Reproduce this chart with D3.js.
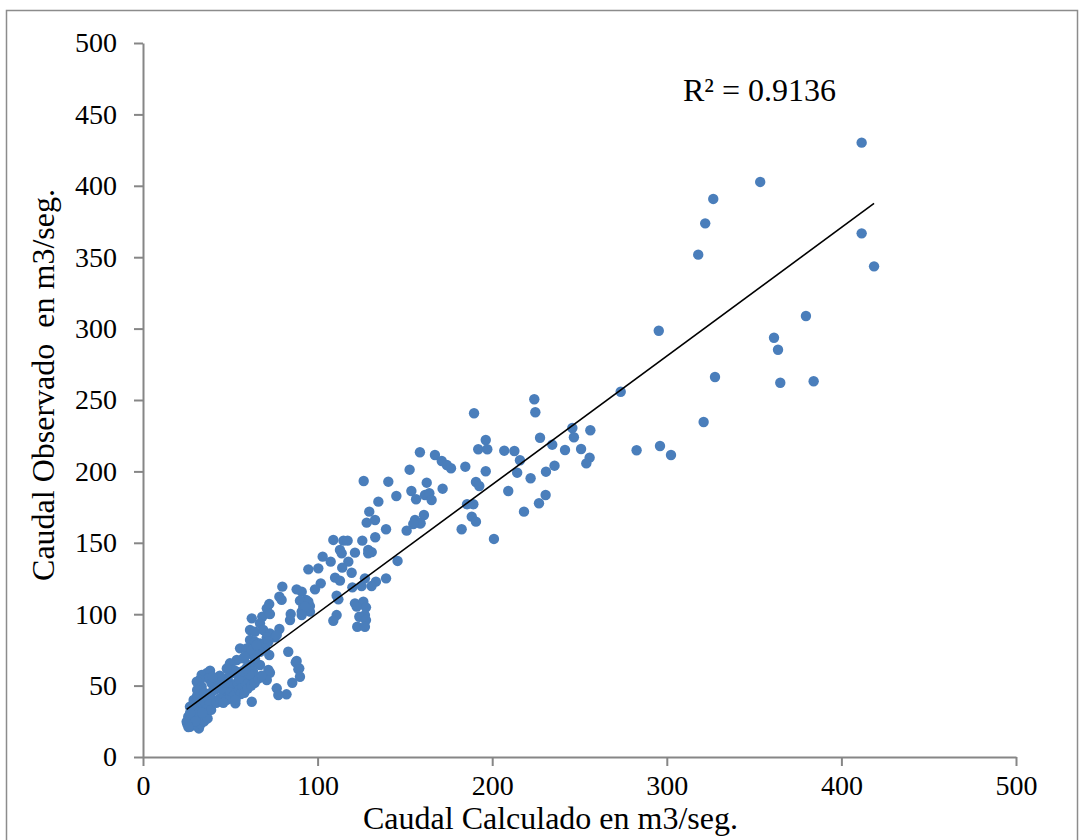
<!DOCTYPE html>
<html>
<head>
  <title>Caudal Observado vs Calculado</title>
  <meta http-equiv="Content-Type" content="text/html; charset=UTF-8">
  <script src="https://d3js.org/d3.v7.min.js"></script>
  <style>
    body { margin: 0; background: #fff; }
    text { font-family: "Liberation Serif", "Times New Roman", serif; fill: #000; }
    .axis path, .axis line { stroke: #868686; stroke-width: 2px; }
    .axis text { font-size: 28px; }
    .dot { fill: #4a7ebb; }
    .trend { stroke: #000; stroke-width: 1.6px; fill: none; }
    .title { font-size: 32px; white-space: pre; }
  </style>
</head>
<body>
  <div id="chart"></div>
  <script>
    // Caudal calculado (m3/seg) - x values
    var calculado = [
      353.5, 326.6, 322.0, 318.0, 411.6, 411.6, 418.7, 295.4, 379.7, 361.4, 363.7, 327.6, 365.0, 384.1, 273.6, 321.1,
      296.1, 302.4, 282.7,
      224.1, 224.7, 189.6, 245.9, 256.2, 227.4, 246.8, 196.3, 234.4, 192.0, 197.2, 206.9, 212.7, 241.7, 250.9, 215.9,
      255.8, 253.9, 158.6, 167.2, 171.1, 174.0, 176.4, 184.6, 196.3, 214.3, 235.7, 230.8, 222.0, 162.5, 171.6, 190.7,
      192.6, 209.2, 230.6, 161.5, 164.0, 165.3, 185.6, 189.2, 226.8, 160.9, 188.3, 190.7, 218.2, 182.5, 158.6, 201.0,
      152.7, 126.4, 140.5, 153.7, 145.1, 134.8, 156.4, 129.6, 132.9, 128.1, 139.2, 155.8, 159.0, 154.8, 151.0, 109.0,
      114.8, 117.2, 125.6, 133.0, 112.8, 113.8, 121.4, 129.0, 131.0, 129.0, 102.9, 107.5, 117.6, 114.1, 119.5, 145.8,
      94.7, 100.4, 110.0, 112.8, 101.8, 98.5, 127.1, 133.4, 130.9, 139.2, 119.9, 125.2, 90.9, 110.9, 111.9, 93.4,
      95.6, 91.8, 95.6, 90.9, 121.4, 126.2, 127.7, 122.4, 127.1, 123.9, 127.7, 122.7, 127.1, 110.9, 109.0,
      79.8, 88.0, 78.1, 79.4, 72.3, 70.9, 71.8, 89.9, 94.7, 92.8, 84.6, 84.2, 90.9, 68.3, 62.3, 72.7, 67.0, 61.3,
      64.1, 68.9, 72.7, 78.1, 70.9, 75.6, 61.3, 64.1, 67.0, 69.9, 68.0, 71.8, 76.6, 55.6, 59.4, 65.1, 69.9, 63.1,
      57.4, 53.7, 49.8, 83.2, 72.3, 88.0, 89.5, 71.8, 64.1, 67.0, 61.3, 58.4, 62.3, 64.1, 67.0, 65.1, 53.7, 60.3,
      57.4, 64.1, 61.3, 47.9, 45.9, 49.8, 52.9, 62.3, 72.7, 70.9, 76.6, 82.2, 77.5, 85.5, 87.5, 89.0, 89.9,
      36.4, 33.6, 38.4, 37.4, 32.6, 30.8, 33.6, 39.3, 26.9, 30.8, 34.5, 25.0, 26.9, 30.8, 31.7, 25.9, 34.5, 36.4,
      28, 29, 27, 28, 32, 33, 35, 37, 29, 31, 33, 35, 37, 39, 41, 40, 38, 36, 39, 42, 44, 46, 48, 50, 52, 54,
      43, 45, 47, 42, 44, 40, 50, 52, 55, 57, 59, 56, 48, 46, 53, 58, 60, 62, 64, 66, 68, 63, 61, 55, 57, 59,
      50, 52, 48, 30, 32, 34, 28, 31, 35, 27, 30, 25.4, 26
    ];

    // Caudal observado (m3/seg) - y values, same order
    var observado = [
      402.7, 390.8, 373.7, 351.8, 430.2, 366.7, 343.6, 298.5, 308.8, 293.6, 285.2, 266.1, 262.1, 263.1, 255.8, 234.6,
      217.8, 211.5, 214.8,
      250.5, 241.4, 240.7, 230.4, 228.8, 223.6, 223.9, 222.0, 218.7, 215.5, 215.5, 214.5, 214.3, 215.0, 215.7, 207.8,
      209.6, 205.6, 213.4, 211.5, 207.3, 204.5, 202.2, 203.3, 200.1, 199.1, 204.0, 199.8, 195.2, 192.1, 187.9, 192.6,
      189.8, 186.3, 183.5, 183.5, 184.7, 180.0, 177.0, 177.0, 177.7, 169.5, 168.3, 164.8, 171.8, 159.5, 163.7, 152.7,
      201.2, 193.3, 192.8, 186.3, 182.8, 178.8, 180.5, 171.8, 166.0, 164.1, 159.5, 166.0, 163.7, 163.2, 158.5, 152.0,
      151.5, 151.5, 151.5, 153.9, 145.0, 142.6, 143.1, 145.0, 143.5, 142.6, 140.3, 136.8, 136.8, 132.6, 129.0, 137.3,
      131.4, 132.1, 125.6, 123.5, 121.6, 117.4, 125.1, 122.8, 119.7, 125.1, 118.8, 119.7, 115.8, 113.0, 110.4, 110.0,
      105.7, 105.3, 101.8, 101.8, 107.6, 108.8, 104.8, 105.3, 99.4, 98.2, 95.9, 91.2, 91.2, 99.4, 95.4,
      119.3, 117.4, 112.3, 110.0, 107.1, 104.1, 100.6, 109.5, 108.8, 105.3, 100.1, 95.9, 99.4, 98.2, 97.1, 100.1, 93.6, 88.9,
      87.7, 88.9, 86.6, 89.6, 83.8, 83.8, 81.9, 80.7, 79.6, 80.0, 76.8, 80.7, 85.4, 76.1, 76.1, 74.9, 76.1, 71.4,
      69.1, 67.9, 65.6, 73.7, 71.4, 67.2, 62.1, 60.9, 66.7, 64.4, 63.2, 70.2, 74.9, 69.1, 73.7, 78.4, 59.7, 64.4,
      56.2, 56.2, 52.7, 55.1, 53.9, 51.6, 37.6, 38.7, 59.0, 53.9, 48.1, 43.9, 43.4, 52.0, 66.3, 61.4, 56.2,
      58.6, 57.4, 60.4, 55.1, 53.9, 52.7, 49.2, 51.6, 35.2, 37.6, 35.2, 24.7, 21.2, 22.4, 25.9, 28.2, 28.2, 30.6,
      30, 33, 26, 23, 20, 23, 25, 27, 40, 43, 41, 39, 42, 45, 47, 40, 37, 33, 33, 38, 41, 44, 46, 48, 50, 52,
      50, 48, 52, 55, 57, 56, 45, 43, 47, 49, 51, 44, 40, 38, 40, 45, 48, 50, 52, 55, 57, 60, 58, 55, 60, 62,
      58, 61, 62, 28, 31, 31, 36, 47, 45, 31, 25, 23, 21
    ];

    var trendSlope = 0.9, trendIntercept = 10.8;
    var r2Label = "R² = 0.9136";

    // Axis ticks and titles
    var xTicks = [0, 100, 200, 300, 400, 500];
    var yTicks = [0, 50, 100, 150, 200, 250, 300, 350, 400, 450, 500];
    var xTitle = "Caudal Calculado en m3/seg.";
    var yTitle = "Caudal Observado  en m3/seg.";

    var width = 1083, height = 840;
    var margin = { left: 143, right: 67, top: 43, bottom: 83 };

    var svg = d3.select("#chart").append("svg")
        .attr("width", width)
        .attr("height", height);

    // Outer frame of the chart area
    svg.append("rect")
        .attr("x", 6.5).attr("y", 10.5)
        .attr("width", 1071).attr("height", 840)
        .attr("fill", "none")
        .attr("stroke", "#8c8c8c")
        .attr("stroke-width", 1.5);

    var x = d3.scaleLinear().domain([0, 500]).range([margin.left, width - margin.right]);
    var y = d3.scaleLinear().domain([0, 500]).range([height - margin.bottom, margin.top]);

    // Axes
    svg.append("g")
        .attr("class", "axis")
        .attr("transform", "translate(0," + y(0) + ")")
        .call(d3.axisBottom(x).tickValues(xTicks).tickSize(9).tickSizeOuter(0).tickPadding(9))
        .selectAll("text").attr("dy", "0.71em");

    svg.append("g")
        .attr("class", "axis")
        .attr("transform", "translate(" + x(0) + ",0)")
        .call(d3.axisLeft(y).tickValues(yTicks).tickSize(9).tickSizeOuter(0).tickPadding(17));

    // Points
    var points = calculado.map(function(d, i) { return { x: d, y: observado[i] }; });

    svg.append("g")
        .selectAll("circle")
        .data(points)
        .enter().append("circle")
        .attr("class", "dot")
        .attr("cx", function(d) { return x(d.x); })
        .attr("cy", function(d) { return y(d.y); })
        .attr("r", 5.2);

    // Linear trendline across the data range
    var xMin = d3.min(calculado), xMax = d3.max(calculado);
    svg.append("line")
        .attr("class", "trend")
        .attr("x1", x(xMin)).attr("y1", y(trendSlope * xMin + trendIntercept))
        .attr("x2", x(xMax)).attr("y2", y(trendSlope * xMax + trendIntercept));

    svg.append("text")
        .attr("class", "title")
        .attr("x", 683).attr("y", 101)
        .text(r2Label);

    // Axis titles
    svg.append("text")
        .attr("class", "title")
        .attr("x", (x(0) + x(500)) / 2 - 29)
        .attr("y", 829)
        .attr("text-anchor", "middle")
        .text(xTitle);

    svg.append("text")
        .attr("class", "title")
        .attr("transform", "translate(54," + 385 + ") rotate(-90)")
        .attr("text-anchor", "middle")
        .text(yTitle);
  </script>
</body>
</html>
